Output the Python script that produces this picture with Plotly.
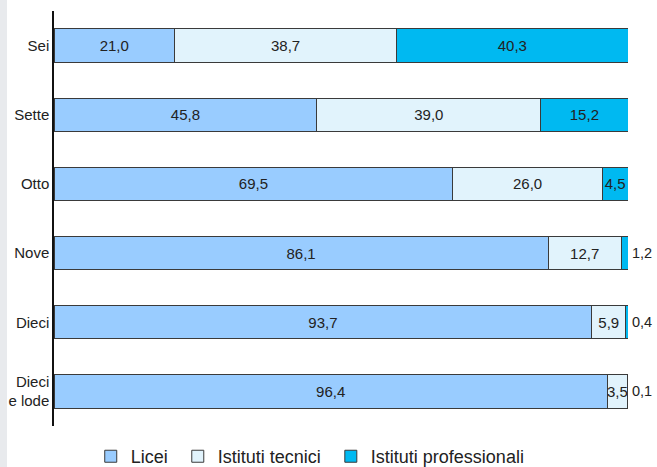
import plotly.graph_objects as go

categories = ["Sei", "Sette", "Otto", "Nove", "Dieci", "Dieci<br>e lode"]
licei = [21.0, 45.8, 69.5, 86.1, 93.7, 96.4]
tecnici = [38.7, 39.0, 26.0, 12.7, 5.9, 3.5]
professionali = [40.3, 15.2, 4.5, 1.2, 0.4, 0.1]
series_names = ["Licei\u00a0", "Istituti tecnici\u00a0", "Istituti professionali"]
colors = ["#99CCFF", "#E1F3FC", "#00B9F1"]

FONT = "Liberation Sans, Arial, sans-serif"
SMALL = 2.0  # values below this are labelled outside the bar

fig = go.Figure()
for name, vals, col in zip(series_names, [licei, tecnici, professionali], colors):
    fig.add_trace(go.Bar(
        y=categories, x=vals, name=name, orientation="h",
        marker=dict(color=col, line=dict(color="#3a3a3a", width=1)),
        text=[f"{v:.1f}".replace(".", ",") if v >= SMALL else "" for v in vals],
        textposition="inside", textangle=0,
        constraintext="none", insidetextanchor="middle",
        textfont=dict(size=15, color="#222222", family=FONT),
        cliponaxis=False,
    ))

annotations = []
for i, cat in enumerate(categories):
    v = professionali[i]
    if v < SMALL:
        total = round(licei[i] + tecnici[i] + professionali[i], 1)
        annotations.append(dict(
            x=total, y=cat, xref="x", yref="y", text=f"{v:.1f}".replace(".", ","),
            showarrow=False, xanchor="left", xshift=2,
            font=dict(size=14.5, color="#222222", family=FONT),
        ))

fig.update_layout(
    barmode="stack",
    width=657, height=467,
    margin=dict(l=54, r=29, t=11, b=41, autoexpand=False),
    paper_bgcolor="white", plot_bgcolor="white",
    font=dict(family=FONT, size=15, color="#222222"),
    bargap=0.516,
    xaxis=dict(range=[0, 100], visible=False, fixedrange=True),
    yaxis=dict(categoryorder="array", categoryarray=categories, autorange="reversed",
               showline=True, linecolor="#111111", linewidth=1.5, ticks="",
               showgrid=False, ticklabelstandoff=0, automargin=False),
    legend=dict(orientation="h", x=0.064, xanchor="left", y=-0.029, yanchor="top",
                font=dict(size=18), traceorder="normal", itemwidth=30),
    showlegend=True,
    annotations=annotations,
    shapes=[dict(type="rect", xref="paper", yref="paper", x0=-54/574, x1=-47/574,
                 y0=-41/415, y1=1 + 11/415, fillcolor="#E8EAED", line=dict(width=0),
                 layer="below")],
)
fig.write_html("out.html", config={"displayModeBar": False},
               post_script="document.body.style.margin='0';document.body.style.overflow='hidden';")
